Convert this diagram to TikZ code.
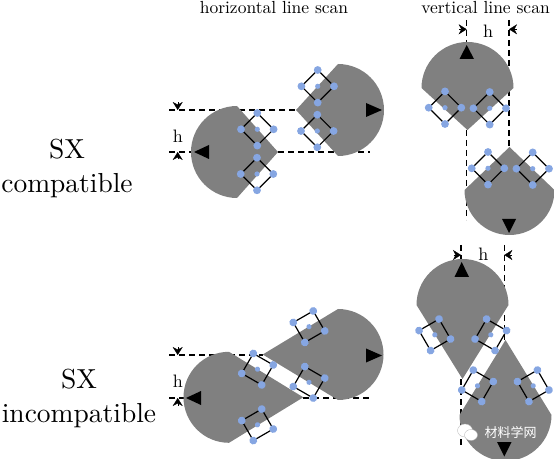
\documentclass[tikz,border=0pt]{standalone}
\usepackage{fontspec}
\usepackage{tikz}
\usetikzlibrary{arrows.meta, positioning, calc}
\newfontfamily\cjk{Noto Sans CJK SC}
\definecolor{plaquette}{RGB}{128,128,128}
\definecolor{qubit}{RGB}{134,166,226}

\tikzset{
    scanline/.style={black, line width=1.1pt, dash pattern=on 6pt off 4pt},
    marker/.style={black, fill=black},
    gap/.style={-{Stealth[length=8pt, width=10pt]}, line width=0.3pt},
    title/.style={font=\fontsize{10}{12}\selectfont, scale=1.75},
    heading/.style={font=\fontsize{10}{12.4}\selectfont, scale=2.75, align=center},
    hlabel/.style={font=\fontsize{10}{12}\selectfont, scale=1.8}
}

% plaquette: x, y of the arc centre, direction of the apex, apex distance, radius
\newcommand{\plaq}[5]{
    \begin{scope}[shift={(#1,#2)}, rotate=#3]
        \fill[plaquette] (#4,0) -- (0,#5) arc (90:270:#5) -- cycle;
    \end{scope}
}
% data qubits: x, y of the centre, tilt
\newcommand{\qubits}[3]{
    \begin{scope}[shift={(#1,#2)}, rotate=#3]
        \draw[black, line width=1.2pt] (16.3,0) -- (0,16.3) -- (-16.3,0) -- (0,-16.3) -- cycle;
        \foreach \a in {0,90,180,270}
            \fill[qubit] (\a:16.3) circle (3.9);
        \fill[qubit] (0,0) circle (2.6);
    \end{scope}
}

\begin{document}
\begin{tikzpicture}[x=1pt, y=1pt]
    \useasboundingbox (0,0) rectangle (554,458);

    % horizontal, compatible
    \draw[scanline] (169,348) -- (296,348);
    \draw[scanline] (169,306) -- (192,306);
    \draw[scanline] (278,306) -- (370,306);
    \plaq{237}{306}{0}{41}{46}
    \plaq{338}{348}{180}{42}{46}
    \fill[marker] (194,306) -- (209,313) -- (209,299) -- cycle;
    \fill[marker] (382,348) -- (366,355) -- (366,341) -- cycle;
    \qubits{257.3}{328.7}{0}
    \qubits{257}{284}{0}
    \qubits{317.7}{371.7}{0}
    \qubits{317.3}{327}{0}
    \coordinate (gapA) at (177.7,348);
    \coordinate (gapB) at (177.7,306);
    \draw[gap] ($(gapA)+(0,7.5)$) -- (gapA);
    \draw[gap] ($(gapB)+(0,-7.5)$) -- (gapB);
    \node[hlabel] (hA) at (178,322) {h};

    % vertical, compatible
    \draw[scanline] (466.7,438) -- (466.7,415);
    \draw[scanline] (466.7,328) -- (466.7,238);
    \draw[scanline] (509,438) -- (509,311);
    \plaq{467.5}{370}{-90}{42}{46}
    \plaq{509.5}{268}{90}{43}{45}
    \fill[marker] (466.7,413) -- (474,399) -- (459.5,399) -- cycle;
    \fill[marker] (509,225) -- (516,239) -- (502,239) -- cycle;
    \qubits{445}{350.3}{0}
    \qubits{489.7}{349.7}{0}
    \qubits{488}{289.7}{0}
    \qubits{532.7}{289.3}{0}
    \coordinate (gapC) at (466.7,428.7);
    \coordinate (gapD) at (509,428.7);
    \draw[gap] ($(gapC)+(-7.5,0)$) -- (gapC);
    \draw[gap] ($(gapD)+(7.5,0)$) -- (gapD);
    \node[hlabel] (hB) at (488,427) {h};

    % horizontal, incompatible
    \draw[scanline] (169,103) -- (263,103);
    \draw[scanline] (169,60) -- (184,60);
    \draw[scanline] (303,60) -- (370,60);
    \plaq{229}{60.7}{0}{74.3}{45.5}
    \plaq{338}{103.5}{180}{75.3}{45.5}
    \fill[marker] (186,60) -- (201,67) -- (201,53) -- cycle;
    \fill[marker] (382,102.5) -- (366,109.5) -- (366,95.5) -- cycle;
    \qubits{257.5}{88.8}{15}
    \qubits{257.5}{33.2}{-15}
    \qubits{309}{131.3}{-15}
    \qubits{309}{75.7}{15}
    \coordinate (gapE) at (177.7,103);
    \coordinate (gapF) at (177.7,60);
    \draw[gap] ($(gapE)+(0,7.5)$) -- (gapE);
    \draw[gap] ($(gapF)+(0,-7.5)$) -- (gapF);
    \node[hlabel] (hC) at (178,77) {h};

    % vertical, incompatible
    \draw[scanline] (461,213) -- (461,196);
    \draw[scanline] (461,79) -- (461,13);
    \draw[scanline] (504.3,213) -- (504.3,118);
    \plaq{462.5}{153}{-90}{74}{46}
    \plaq{505.5}{43}{90}{75}{46}
    \fill[marker] (461.7,196) -- (469,181) -- (454.5,181) -- cycle;
    \fill[marker] (504.3,1.5) -- (511.5,16) -- (497,16) -- cycle;
    \qubits{434.8}{123.2}{-15}
    \qubits{490.8}{123.2}{15}
    \qubits{477.5}{72.2}{15}
    \qubits{533.2}{72.2}{-15}
    \coordinate (gapG) at (461,203);
    \coordinate (gapH) at (504.3,203);
    \draw[gap] ($(gapG)+(-7.5,0)$) -- (gapG);
    \draw[gap] ($(gapH)+(7.5,0)$) -- (gapH);
    \node[hlabel] (hD) at (483.3,204) {h};

    % texts
    \node[title] (scanH) at (274,450) {horizontal line scan};
    \node[title] (scanV) at (485.5,450) {vertical line scan};
    \node[heading] (labelA) at (67,289.5) {SX\\compatible};
    \node[heading] (labelB) at (79,59.5) {SX\\incompatible};

    % watermark
    \fill[white, draw=plaquette!60, line width=0.3pt] (465,27.5) ellipse (7.5 and 6.5);
    \fill[white, draw=plaquette!60, line width=0.3pt] (471,23) ellipse (6.5 and 5.5);
    \node[white, font=\cjk\fontsize{13}{14}\selectfont] (mark) at (510.5,26) {材料学网};
\end{tikzpicture}
\end{document}
